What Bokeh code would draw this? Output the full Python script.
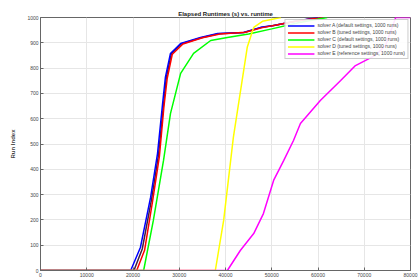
from bokeh.plotting import figure
from bokeh.models import Range1d, FixedTicker, Legend, LegendItem
from bokeh.embed import file_html
from bokeh.resources import INLINE

# Data (runtime vs. run index)
blue_x = [0, 19500, 21600, 23800, 25300, 26400, 27000, 28100, 30300, 34600, 38300, 43900, 47600, 50400, 55000, 60000]
blue_y = [0, 0, 91, 289, 462, 660, 763, 858, 897, 921, 937, 941, 961, 968, 985, 1000]

red_x = [0, 20800, 22500, 24200, 25700, 26700, 27400, 28500, 30800, 35000, 38800, 44300, 48000, 51000, 56000, 61000]
red_y = [0, 0, 80, 270, 450, 650, 760, 855, 895, 920, 935, 942, 960, 970, 988, 1000]

dark_x = [0, 20200, 22000, 24000, 25500, 26600, 27200, 28300, 30500, 34800, 38500, 44000, 47800, 50700, 55500, 60500]
dark_y = [0, 0, 85, 280, 455, 655, 762, 857, 896, 920, 936, 941, 961, 969, 986, 1000]

green_x = [0, 22300, 24400, 26600, 28100, 30300, 33100, 36800, 40400, 45000, 50000, 56000, 62000]
green_y = [0, 0, 198, 435, 620, 779, 858, 909, 921, 935, 955, 980, 1000]

yellow_x = [0, 37800, 39600, 41700, 43700, 44700, 46100, 48000, 52000]
yellow_y = [0, 0, 198, 526, 763, 882, 961, 985, 1000]

magenta_x = [0, 40400, 43200, 46100, 48200, 50400, 52600, 54700, 56200, 60500, 64900, 68100, 72400, 74600, 76800, 80000]
magenta_y = [0, 0, 79, 146, 225, 356, 435, 514, 581, 672, 751, 810, 850, 889, 1000, 1000]

legend_labels = [
    "solver A (default settings, 1000 runs)",
    "solver B (tuned settings, 1000 runs)",
    "solver C (default settings, 1000 runs)",
    "solver D (tuned settings, 1000 runs)",
    "solver E (reference settings, 1000 runs)",
]

x_ticks = [0, 10000, 20000, 30000, 40000, 50000, 60000, 70000, 80000]
y_ticks = [0, 100, 200, 300, 400, 500, 600, 700, 800, 900, 1000]

p = figure(width=418, height=280, output_backend="svg", toolbar_location=None,
           x_range=Range1d(0, 80000), y_range=Range1d(0, 1000),
           min_border_left=40, min_border_right=8, min_border_top=17, min_border_bottom=10,
           title="Elapsed Runtimes (s) vs. runtime")
p.title.text_font_size = "6px"
p.title.text_font_style = "bold"
p.title.align = "center"
p.title.text_color = "#222222"
p.title.standoff = 2
p.title.offset = 0

r_dark = p.line(dark_x, dark_y, line_color="#402040", line_width=1.5)
r_blue = p.line(blue_x, blue_y, line_color="#0000ff", line_width=1.5)
r_red = p.line(red_x, red_y, line_color="#ff0000", line_width=1.5)
r_green = p.line(green_x, green_y, line_color="#00ff00", line_width=1.5)
r_yellow = p.line(yellow_x, yellow_y, line_color="#ffff00", line_width=1.5)
r_mag = p.line(magenta_x, magenta_y, line_color="#ff00ff", line_width=1.5)

legend = Legend(items=[
    LegendItem(label=legend_labels[0], renderers=[r_blue]),
    LegendItem(label=legend_labels[1], renderers=[r_red]),
    LegendItem(label=legend_labels[2], renderers=[r_green]),
    LegendItem(label=legend_labels[3], renderers=[r_yellow]),
    LegendItem(label=legend_labels[4], renderers=[r_mag]),
], location="top_right")
legend.label_text_font_size = "5px"
legend.label_height = 5
legend.glyph_height = 5
legend.glyph_width = 27
legend.spacing = 1
legend.padding = 2
legend.margin = 2
legend.label_standoff = 3
legend.border_line_color = "#999999"
legend.background_fill_alpha = 0.9
p.add_layout(legend)

p.xaxis.ticker = FixedTicker(ticks=x_ticks)
p.yaxis.ticker = FixedTicker(ticks=y_ticks)
for ax in (p.xaxis, p.yaxis):
    ax.major_label_text_font_size = "5px"
    ax.major_label_text_color = "#444444"
    ax.major_tick_out = 0
    ax.major_tick_in = 3
    ax.minor_tick_out = 0
    ax.minor_tick_in = 0
    ax.axis_line_color = "#666666"
    ax.major_tick_line_color = "#666666"
    ax.major_label_standoff = 2
p.yaxis.axis_label = "Run Index"
p.yaxis.axis_label_text_font_size = "6px"
p.yaxis.axis_label_text_font_style = "bold"
p.yaxis.axis_label_standoff = 8
p.xaxis.formatter.use_scientific = False

p.xgrid.grid_line_color = "#e6e6e6"
p.ygrid.grid_line_color = "#e6e6e6"
p.outline_line_color = "#666666"

open("out.html", "w").write(file_html(p, INLINE))
